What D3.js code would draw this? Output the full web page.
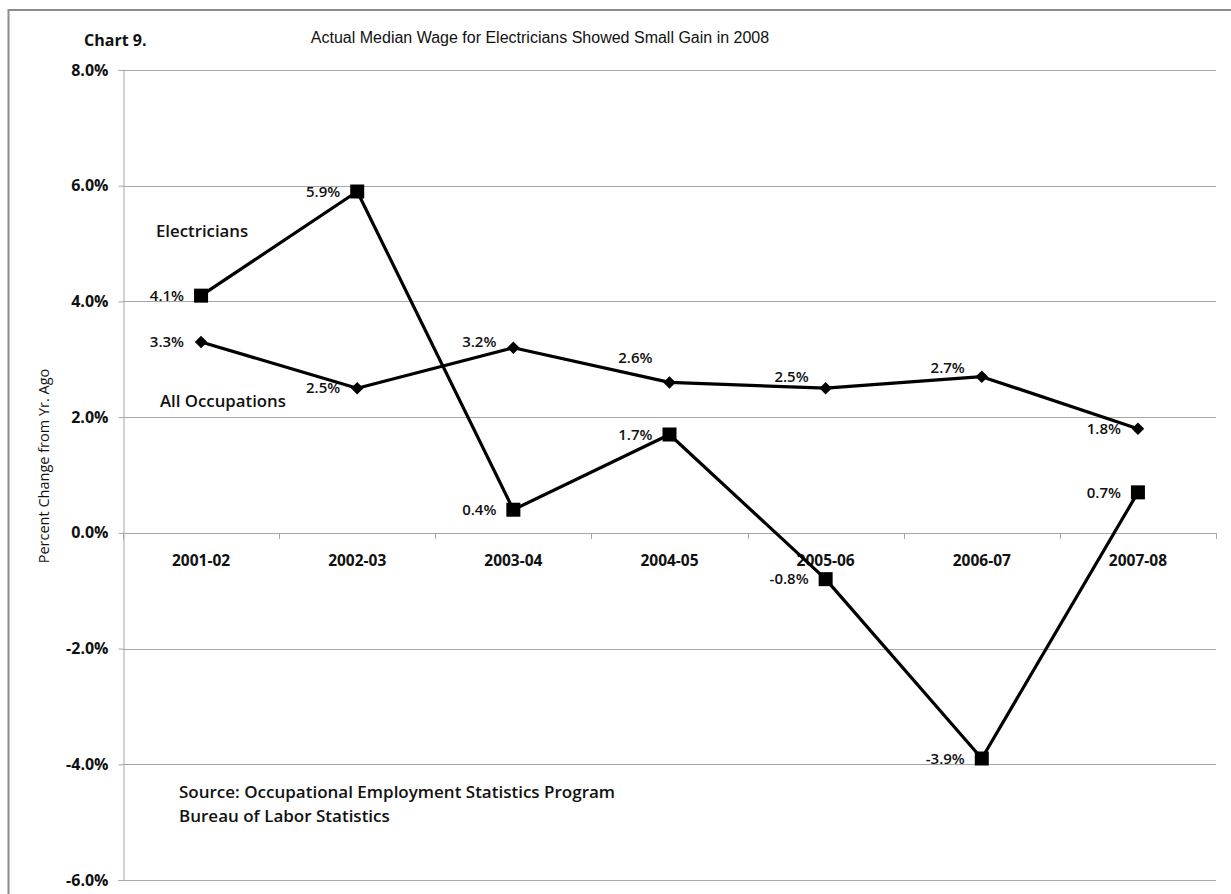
<!DOCTYPE html>
<html>
<head>
<meta charset="utf-8">
<script src="https://cdn.jsdelivr.net/npm/d3@7"></script>
<style>
  html, body { margin: 0; padding: 0; background: #fff; }
  svg { display: block; }
  .lbl { font-family: "Open Sans", "Noto Sans", sans-serif; fill: #111; }
</style>
</head>
<body>
<svg id="chart" width="1231" height="894"></svg>
<script>
// Year-over-year change in median wage, percent
const periods = ["2001-02", "2002-03", "2003-04", "2004-05", "2005-06", "2006-07", "2007-08"];
const electricians = [4.1, 5.9, 0.4, 1.7, -0.8, -3.9, 0.7];
const allOccupations = [3.3, 2.5, 3.2, 2.6, 2.5, 2.7, 1.8];
const yTicks = [-6, -4, -2, 0, 2, 4, 6, 8];

// vertical nudges for the All Occupations value labels (px)
const allOccLabelShift = [0, 0, -6, -25, -11, -9, 0];

const svg = d3.select("#chart");
const m = { left: 123, right: 1216, top: 70, bottom: 880 };

// outer frame
svg.append("rect")
  .attr("x", 8.5).attr("y", 10).attr("width", 1240).attr("height", 900)
  .attr("fill", "none").attr("stroke", "#8c8c8c").attr("stroke-width", 2);

const x = d3.scaleBand().domain(periods).range([m.left, m.right]);
const y = d3.scaleLinear().domain([-6, 8]).range([m.bottom, m.top]);

// percent text with a plain hyphen for negatives
const pct = d => d3.format(".1f")(d).replace("\u2212", "-") + "%";

// horizontal gridlines
svg.append("g").selectAll("line").data(yTicks).join("line")
  .attr("x1", m.left).attr("x2", m.right)
  .attr("y1", d => Math.round(y(d)) + 0.5).attr("y2", d => Math.round(y(d)) + 0.5)
  .attr("stroke", "#a6a6a6").attr("stroke-width", 1);

// y axis
const yAxis = svg.append("g")
  .attr("transform", `translate(${m.left + 0.5},0)`)
  .call(d3.axisLeft(y).tickValues(yTicks).tickSize(5).tickPadding(10).tickFormat(pct));
yAxis.select(".domain").attr("stroke", "#a6a6a6");
yAxis.selectAll(".tick line").attr("stroke", "#a6a6a6");
yAxis.selectAll("text")
  .attr("class", "lbl").style("font-size", "16px").style("font-weight", "bold")
  .attr("fill", "#111");

// x axis along zero line
const xAxis = svg.append("g")
  .attr("transform", `translate(0,${Math.round(y(0)) + 0.5})`)
  .call(d3.axisBottom(x).tickSize(0).tickPadding(21));
xAxis.select(".domain").remove();
xAxis.selectAll("text")
  .attr("class", "lbl").style("font-size", "15.5px").style("font-weight", "bold")
  .attr("fill", "#111");
// category boundary ticks
const bounds = periods.map(p => x(p)).concat([x(periods[periods.length - 1]) + x.bandwidth()]);
svg.append("g").selectAll("line").data(bounds).join("line")
  .attr("x1", d => Math.round(d) + 0.5).attr("x2", d => Math.round(d) + 0.5)
  .attr("y1", Math.round(y(0))).attr("y2", Math.round(y(0)) + 6)
  .attr("stroke", "#a6a6a6");

const cx = p => x(p) + x.bandwidth() / 2;
const line = d3.line().x((d, i) => cx(periods[i])).y(d => y(d));

// All Occupations series
svg.append("path").datum(allOccupations)
  .attr("d", line).attr("fill", "none").attr("stroke", "#000")
  .attr("stroke-width", 3.2).attr("stroke-linejoin", "round");
svg.append("g").selectAll("path").data(allOccupations).join("path")
  .attr("d", d3.symbol().type(d3.symbolDiamond2).size(100))
  .attr("transform", (d, i) => `translate(${cx(periods[i])},${y(d)})`)
  .attr("fill", "#000");

// Electricians series
svg.append("path").datum(electricians)
  .attr("d", line).attr("fill", "none").attr("stroke", "#000")
  .attr("stroke-width", 3.2).attr("stroke-linejoin", "round");
svg.append("g").selectAll("rect").data(electricians).join("rect")
  .attr("x", (d, i) => cx(periods[i]) - 7).attr("y", d => y(d) - 7)
  .attr("width", 14).attr("height", 14).attr("fill", "#000");

// value labels
svg.append("g").selectAll("text").data(electricians).join("text")
  .attr("class", "lbl").attr("text-anchor", "end")
  .attr("x", (d, i) => cx(periods[i]) - 17).attr("y", d => y(d))
  .attr("dy", "0.35em").style("font-size", "15px").style("font-weight", "600")
  .text(pct);
svg.append("g").selectAll("text").data(allOccupations).join("text")
  .attr("class", "lbl").attr("text-anchor", "end")
  .attr("x", (d, i) => cx(periods[i]) - 17).attr("y", (d, i) => y(d) + allOccLabelShift[i])
  .attr("dy", "0.35em").style("font-size", "15px").style("font-weight", "600")
  .text(pct);

// series names
svg.append("text").attr("class", "lbl").attr("x", 156).attr("y", 231).attr("dy", "0.35em")
  .style("font-size", "16.8px").style("font-weight", "600").text("Electricians");
svg.append("text").attr("class", "lbl").attr("x", 160).attr("y", 401).attr("dy", "0.35em")
  .style("font-size", "16.8px").style("font-weight", "600").text("All Occupations");

// headings
svg.append("text").attr("class", "lbl").attr("x", 84).attr("y", 46)
  .style("font-size", "16px").style("font-weight", "bold").text("Chart 9.");
svg.append("text").attr("x", 540).attr("y", 43).attr("text-anchor", "middle")
  .style("font-family", "'Liberation Sans', Arial, sans-serif").style("font-size", "16px")
  .attr("fill", "#111")
  .text("Actual Median Wage for Electricians Showed Small Gain in 2008");

// y axis title
svg.append("text").attr("class", "lbl")
  .attr("transform", `translate(44,${(m.top + m.bottom) / 2 - 9}) rotate(-90)`)
  .attr("text-anchor", "middle").attr("dy", "0.35em")
  .style("font-size", "14.5px").text("Percent Change from Yr. Ago");

// source note
svg.append("text").attr("class", "lbl").attr("x", 179).attr("y", 798)
  .style("font-size", "17px").style("font-weight", "600")
  .text("Source: Occupational Employment Statistics Program");
svg.append("text").attr("class", "lbl").attr("x", 179).attr("y", 822)
  .style("font-size", "17px").style("font-weight", "600")
  .text("Bureau of Labor Statistics");
</script>
</body>
</html>
